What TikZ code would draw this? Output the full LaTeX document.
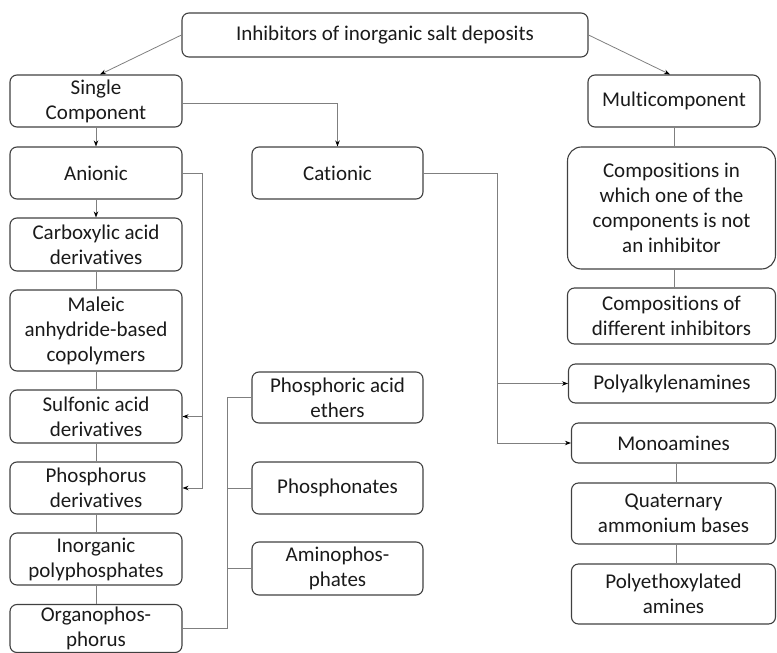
\documentclass[tikz,border=0pt]{standalone}
\usepackage{fontspec}
\setmainfont{Carlito}[Ligatures={NoCommon}]
\usetikzlibrary{arrows.meta}
\definecolor{boxline}{HTML}{404040}
\definecolor{conn}{HTML}{7F7F7F}
\definecolor{txt}{HTML}{1A1A1A}
\tikzset{
  box/.style={draw=boxline, line width=1.1pt, rounded corners=7pt, align=center,
    inner sep=0pt, text=txt, font=\fontsize{21}{25}\selectfont},
  bigbox/.style={box, rounded corners=14pt},
  conline/.style={draw=conn, line width=0.8pt},
  arr/.style={conline, -{Stealth[length=6pt,width=4.5pt,color=black]}},
}
\begin{document}
\begin{tikzpicture}[x=1pt,y=-1pt]
\useasboundingbox (0,0) rectangle (777,653);
% top
\node[box, minimum width=406, minimum height=44] (top) at (385,35) {Inhibitors of inorganic salt deposits};
% left column
\node[box, minimum width=172, minimum height=52] (single) at (96,101) {Single\\Component};
\node[box, minimum width=172, minimum height=52] (anionic) at (96,173) {Anionic};
\node[box, minimum width=172, minimum height=53] (carbox) at (96,244.5) {Carboxylic acid\\derivatives};
\node[box, minimum width=172, minimum height=81] (maleic) at (96,330.5) {Maleic\\anhydride-based\\copolymers};
\node[box, minimum width=172, minimum height=53] (sulfonic) at (96,416.5) {Sulfonic acid\\derivatives};
\node[box, minimum width=172, minimum height=52] (phosphorus) at (96,488) {Phosphorus\\derivatives};
\node[box, minimum width=172, minimum height=52] (inorganic) at (96,559) {Inorganic\\polyphosphates};
\node[box, minimum width=172, minimum height=48] (organo) at (96,628.5) {Organophos-\\phorus};
% middle column
\node[box, minimum width=171, minimum height=52] (cationic) at (337.5,173) {Cationic};
\node[box, minimum width=171, minimum height=51] (phacid) at (337.5,397.5) {Phosphoric acid\\ethers};
\node[box, minimum width=171, minimum height=52] (phosphonates) at (337.5,488) {Phosphonates};
\node[box, minimum width=171, minimum height=53] (aminophos) at (337.5,568.5) {Aminophos-\\phates};
% right column
\node[box, minimum width=172, minimum height=52] (multi) at (674,101) {Multicomponent};
\node[bigbox, minimum width=208, minimum height=122] (comp1) at (671.5,208) {Compositions in\\which one of the\\components is not\\an inhibitor};
\node[box, minimum width=208, minimum height=56] (comp2) at (671.5,316) {Compositions of\\different inhibitors};
\node[box, minimum width=207, minimum height=39] (polyalk) at (672,383.5) {Polyalkylenamines};
\node[box, minimum width=204, minimum height=40] (mono) at (673.5,443) {Monoamines};
\node[box, minimum width=204, minimum height=61] (quat) at (673.5,513.5) {Quaternary\\ammonium bases};
\node[box, minimum width=204, minimum height=60] (polyeth) at (673.5,594) {Polyethoxylated\\amines};
% connectors from top
\draw[arr] (top.west) -- ([xshift=4pt]single.north);
\draw[arr] (top.east) -- ([xshift=-4pt]multi.north);
% left column
\draw[arr] (single.south) -- (anionic.north);
\draw[arr] ([yshift=-2pt]single.east) -| (cationic.north);
\draw[arr] (anionic.south) -- (carbox.north);
\draw[conline] (carbox.south) -- (maleic.north);
\draw[conline] (maleic.south) -- (sulfonic.north);
\draw[conline] (sulfonic.south) -- (phosphorus.north);
\draw[conline] (phosphorus.south) -- (inorganic.north);
\draw[conline] (inorganic.south) -- (organo.north);
\coordinate (aj) at ([xshift=20pt]anionic.east);
\draw[arr] (anionic.east) -- (aj) |- (sulfonic.east);
\draw[arr] (aj) |- (phosphorus.east);
% organophosphorus branches
\coordinate (oj) at ([xshift=45pt]organo.east);
\draw[conline] (organo.east) -- (oj) |- (phacid.west);
\draw[conline] (oj) |- (phosphonates.west);
\draw[conline] (oj) |- (aminophos.west);
% cationic branches
\coordinate (cj) at ([xshift=74pt]cationic.east);
\draw[arr] (cationic.east) -- (cj) |- (polyalk.west);
\draw[arr] (cj) |- (mono.west);
% right column
\draw[conline] ([xshift=2.5pt]comp1.north |- multi.south) -- ([xshift=2.5pt]comp1.north);
\draw[conline] ([xshift=2.5pt]comp1.south) -- ([xshift=2.5pt]comp2.north);
\draw[conline] ([xshift=3pt]mono.south) -- ([xshift=3pt]quat.north);
\draw[conline] ([xshift=3pt]quat.south) -- ([xshift=3pt]polyeth.north);
\end{tikzpicture}
\end{document}
